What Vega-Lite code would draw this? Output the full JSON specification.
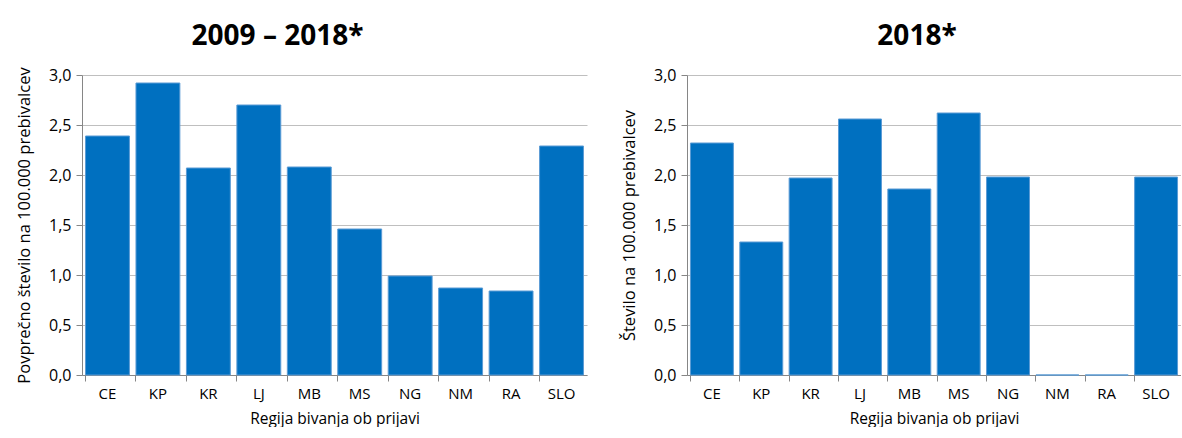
{
  "$schema": "https://vega.github.io/schema/vega-lite/v6.json",
  "padding": {"left": 16, "top": 22, "right": 0, "bottom": 0},
  "autosize": {"type": "pad"},
  "background": "white",
  "datasets": {
    "a": [
      {"regija": "CE", "vrednost": 2.39},
      {"regija": "KP", "vrednost": 2.92},
      {"regija": "KR", "vrednost": 2.07},
      {"regija": "LJ", "vrednost": 2.70},
      {"regija": "MB", "vrednost": 2.08},
      {"regija": "MS", "vrednost": 1.46},
      {"regija": "NG", "vrednost": 0.99},
      {"regija": "NM", "vrednost": 0.87},
      {"regija": "RA", "vrednost": 0.84},
      {"regija": "SLO", "vrednost": 2.29}
    ],
    "b": [
      {"regija": "CE", "vrednost": 2.32},
      {"regija": "KP", "vrednost": 1.33},
      {"regija": "KR", "vrednost": 1.97},
      {"regija": "LJ", "vrednost": 2.56},
      {"regija": "MB", "vrednost": 1.86},
      {"regija": "MS", "vrednost": 2.62},
      {"regija": "NG", "vrednost": 1.98},
      {"regija": "NM", "vrednost": 0},
      {"regija": "RA", "vrednost": 0},
      {"regija": "SLO", "vrednost": 1.98}
    ]
  },
  "config": {
    "font": "Open Sans",
    "view": {"stroke": null},
    "axis": {
      "labelFont": "Open Sans",
      "titleFont": "Open Sans",
      "labelColor": "#000000",
      "titleColor": "#000000",
      "titleFontWeight": "normal",
      "domainColor": "#868686",
      "tickColor": "#868686",
      "gridColor": "#bfbfbf"
    },
    "title": {"font": "Open Sans", "fontSize": 28, "fontWeight": "bold", "color": "#000000", "frame": "group", "anchor": "middle"}
  },
  "hconcat": [
    {
      "title": {"text": "2009 – 2018*", "dx": -57, "offset": 16},
      "width": 505,
      "height": 300,
      "data": {"name": "a"},
      "layer": [
        {
          "mark": {"type": "bar", "color": "#0070c0", "stroke": "#5b9bd5", "strokeWidth": 1},
          "encoding": {
            "x": {"field": "regija", "type": "nominal", "sort": null,
              "scale": {"paddingInner": 0.13, "paddingOuter": 0.07},
              "axis": {"title": "Regija bivanja ob prijavi", "labelAngle": 0, "labelFontSize": 15, "titleFontSize": 15.5, "ticks": false, "labelPadding": 11, "titlePadding": 10, "domain": true}},
            "y": {"field": "vrednost", "type": "quantitative",
              "scale": {"domain": [0, 3], "nice": false},
              "axis": {"title": "Povprečno število na 100.000 prebivalcev", "values": [0, 0.5, 1, 1.5, 2, 2.5, 3], "labelExpr": "replace(format(datum.value, '.1f'), '.', ',')", "labelFontSize": 16, "titleFontSize": 16.5, "tickSize": 6, "labelPadding": 5, "titlePadding": 16}}
          }
        },
        {
          "mark": {"type": "bar", "opacity": 0},
          "encoding": {
            "x": {"field": "regija", "type": "nominal", "sort": null,
              "axis": {"orient": "bottom", "title": null, "labels": false, "domain": false, "bandPosition": 0, "tickSize": 6}}
          }
        }
      ],
      "resolve": {"axis": {"x": "independent"}}
    },
    {
      "title": {"text": "2018*", "dx": -17, "offset": 16},
      "width": 494,
      "height": 300,
      "data": {"name": "b"},
      "layer": [
        {
          "mark": {"type": "bar", "color": "#0070c0", "stroke": "#5b9bd5", "strokeWidth": 1},
          "encoding": {
            "x": {"field": "regija", "type": "nominal", "sort": null,
              "scale": {"paddingInner": 0.13, "paddingOuter": 0.07},
              "axis": {"title": "Regija bivanja ob prijavi", "labelAngle": 0, "labelFontSize": 15, "titleFontSize": 15.5, "ticks": false, "labelPadding": 11, "titlePadding": 10, "domain": true}},
            "y": {"field": "vrednost", "type": "quantitative",
              "scale": {"domain": [0, 3], "nice": false},
              "axis": {"title": "Število na 100.000 prebivalcev", "values": [0, 0.5, 1, 1.5, 2, 2.5, 3], "labelExpr": "replace(format(datum.value, '.1f'), '.', ',')", "labelFontSize": 16, "titleFontSize": 16.5, "tickSize": 6, "labelPadding": 5, "titlePadding": 16}}
          }
        },
        {
          "mark": {"type": "bar", "opacity": 0},
          "encoding": {
            "x": {"field": "regija", "type": "nominal", "sort": null,
              "axis": {"orient": "bottom", "title": null, "labels": false, "domain": false, "bandPosition": 0, "tickSize": 6}}
          }
        }
      ],
      "resolve": {"axis": {"x": "independent"}}
    }
  ],
  "spacing": 34
}
